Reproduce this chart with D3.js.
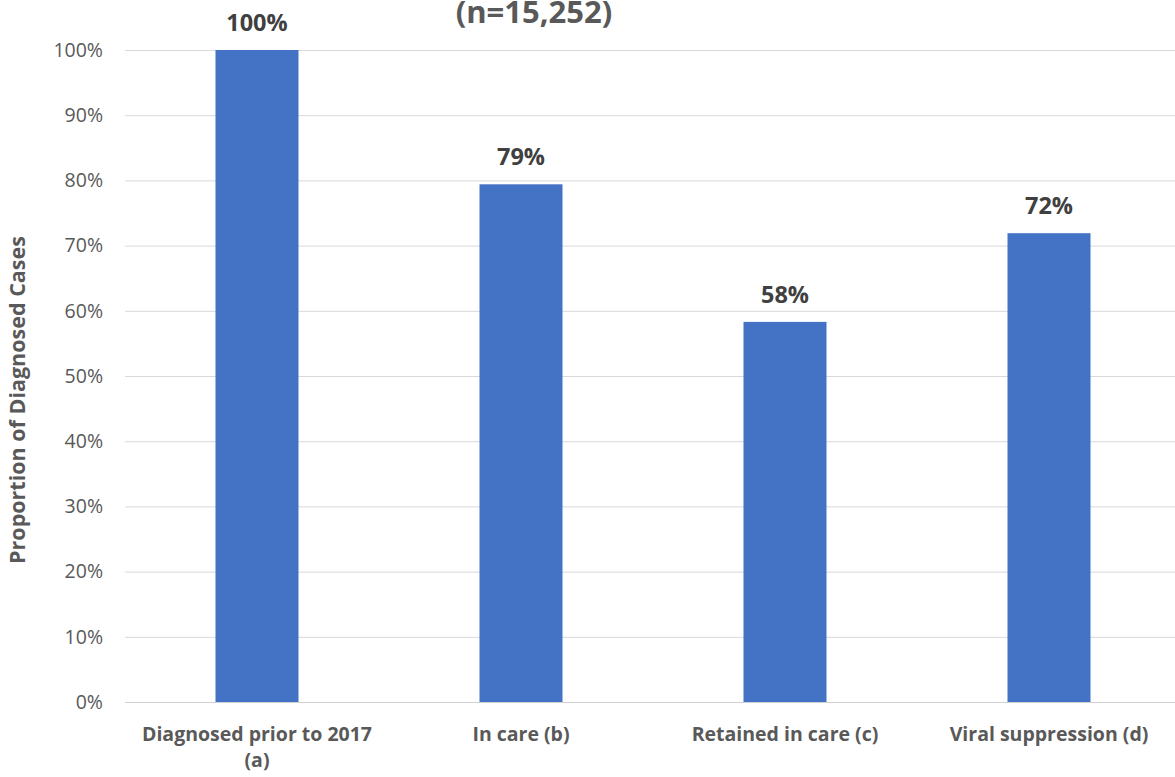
<!DOCTYPE html>
<html><head><meta charset="utf-8">
<script src="https://cdn.jsdelivr.net/npm/d3@7"></script>
<style>body{margin:0;background:#fff;}svg{display:block;font-family:"Open Sans",sans-serif;}</style>
</head><body>
<svg id="c" width="1175" height="777"></svg>
<script>
const categories = ["Diagnosed prior to 2017 (a)", "In care (b)", "Retained in care (c)", "Viral suppression (d)"];
const categoryLines = [["Diagnosed prior to 2017", "(a)"], ["In care (b)"], ["Retained in care (c)"], ["Viral suppression (d)"]];
const values = [100, 79.4, 58.3, 71.9];
const valueLabels = ["100%", "79%", "58%", "72%"];
const yTicks = [0, 10, 20, 30, 40, 50, 60, 70, 80, 90, 100];
const titleText = "(n=15,252)";
const yAxisTitle = "Proportion of Diagnosed Cases";

(function(){
const svg = d3.select("#c");
const pLeft = 125, pRight = 1181, pTop = 50, pBottom = 702;
const x = d3.scaleBand().domain(categories).range([pLeft, pRight]).paddingInner(1 - 83/264).paddingOuter((1 - 83/264)/2);
const y = d3.scaleLinear().domain([0, 100]).range([pBottom, pTop]);

svg.append("g").selectAll("line").data(yTicks).join("line")
  .attr("x1", pLeft).attr("x2", pRight)
  .attr("y1", d => y(d) + 0.5).attr("y2", d => y(d) + 0.5)
  .attr("stroke", d => d === 0 ? "#d0d0d0" : "#d9d9d9").attr("stroke-width", 1);

const yAxis = d3.axisLeft(y).tickValues(yTicks).tickFormat(d => d + "%").tickSize(0).tickPadding(0);
const ya = svg.append("g").attr("transform", `translate(${pLeft - 22},0)`).call(yAxis);
ya.select(".domain").remove();
ya.selectAll("text").attr("fill", "#595959").style("font-size", "19.5px").style("font-family", "'Open Sans',sans-serif");

svg.append("g").selectAll("rect").data(values).join("rect")
  .attr("x", (d, i) => x(categories[i])).attr("width", x.bandwidth())
  .attr("y", d => y(d)).attr("height", d => y(0) - y(d))
  .attr("fill", "#4472c4");

svg.append("g").selectAll("text").data(values).join("text")
  .attr("x", (d, i) => x(categories[i]) + x.bandwidth() / 2)
  .attr("y", d => y(d) - 19)
  .attr("text-anchor", "middle").attr("fill", "#404040")
  .style("font-size", "23.5px").style("font-weight", "bold")
  .text((d, i) => valueLabels[i]);

const cg = svg.append("g").selectAll("text").data(categories).join("text")
  .attr("x", d => x(d) + x.bandwidth() / 2)
  .attr("y", 741)
  .attr("text-anchor", "middle").attr("fill", "#595959")
  .style("font-size", "19.5px").style("font-weight", "bold");
cg.each(function(d, i) {
  d3.select(this).selectAll("tspan").data(categoryLines[i]).join("tspan")
    .attr("x", x(d) + x.bandwidth() / 2).attr("dy", (t, j) => j === 0 ? 0 : 26).text(t => t);
});

svg.append("text").attr("x", 534).attr("y", 23).attr("text-anchor", "middle")
  .attr("fill", "#595959").style("font-size", "31px").style("font-weight", "bold").text(titleText);

svg.append("text").attr("transform", `translate(25,400) rotate(-90)`)
  .attr("text-anchor", "middle").attr("fill", "#595959")
  .style("font-size", "21.5px").style("font-weight", "bold").text(yAxisTitle);
})();
</script>
</body></html>
